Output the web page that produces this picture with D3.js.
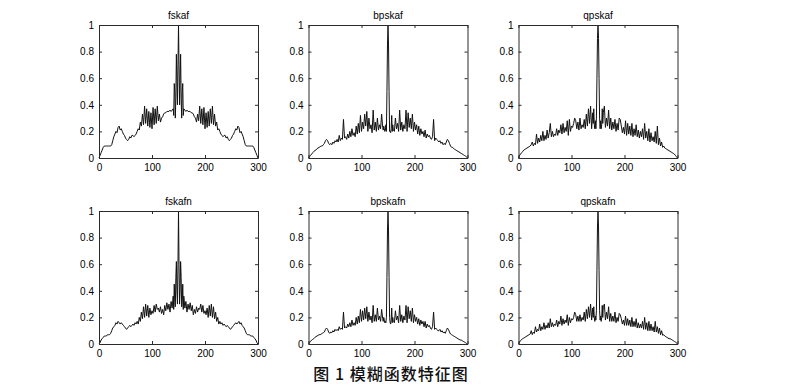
<!DOCTYPE html>
<html><head><meta charset="utf-8">
<script src="https://cdn.jsdelivr.net/npm/d3@7/dist/d3.min.js"></script>
<style>body{margin:0;background:#fff}svg{display:block}</style>
</head><body>
<svg id="c" width="800" height="386"></svg>
<script>
// x grid: step 2 outside the centre, step 1 across 140..160
const xs = d3.range(0,140,2).concat(d3.range(140,161)).concat(d3.range(162,301,2));

const titles = ["fskaf","bpskaf","qpskaf","fskafn","bpskafn","qpskafn"];
const xTicks = [0,100,200,300];
const yTicks = [0,0.2,0.4,0.6,0.8,1];
const caption = "图 1 模糊函数特征图";

const fskaf = [
0,0.02,0.04,0.06,0.08,0.09,0.09,0.09,0.09,0.09,
0.09,0.09,0.1,0.13,0.16,0.18,0.2,0.19,0.23,0.24,
0.21,0.22,0.2,0.18,0.17,0.15,0.14,0.13,0.14,0.16,
0.15,0.17,0.17,0.16,0.17,0.18,0.2,0.22,0.21,0.27,
0.24,0.33,0.25,0.39,0.26,0.37,0.24,0.35,0.23,0.34,
0.22,0.38,0.25,0.37,0.26,0.39,0.28,0.33,0.27,0.3,
0.31,0.33,0.34,0.34,0.35,0.35,0.35,0.36,0.35,0.36,
0.37,0.32,0.56,0.5,0.3,0.45,0.78,0.6,0.4,0.7,1,0.7,0.4,0.6,0.78,0.45,0.3,0.5,0.56,0.32,0.37,
0.36,0.35,0.36,0.35,0.35,0.35,0.34,0.34,0.33,0.31,
0.3,0.27,0.33,0.28,0.39,0.26,0.37,0.25,0.38,0.22,
0.34,0.23,0.35,0.24,0.37,0.26,0.39,0.25,0.33,0.24,
0.27,0.21,0.22,0.2,0.18,0.17,0.16,0.17,0.17,0.15,
0.16,0.14,0.13,0.14,0.15,0.17,0.18,0.2,0.22,0.21,
0.24,0.23,0.19,0.2,0.18,0.16,0.13,0.1,0.09,0.09,
0.09,0.09,0.09,0.09,0.09,0.08,0.06,0.04,0.02,0];

const bpskaf = [
0,0.01,0.02,0.03,0.04,0.05,0.055,0.06,0.07,0.075,
0.08,0.085,0.09,0.09,0.1,0.11,0.13,0.14,0.13,0.11,
0.1,0.11,0.1,0.12,0.11,0.13,0.12,0.14,0.12,0.17,
0.13,0.15,0.14,0.29,0.15,0.16,0.14,0.18,0.15,0.2,
0.16,0.22,0.17,0.19,0.16,0.24,0.18,0.26,0.19,0.32,
0.2,0.27,0.22,0.33,0.24,0.35,0.2,0.3,0.22,0.25,
0.19,0.36,0.21,0.27,0.2,0.3,0.21,0.25,0.22,0.33,
0.23,0.21,0.24,0.22,0.2,0.21,0.25,0.2,0.5,0.85,1,0.85,0.5,0.2,0.2,0.19,0.22,0.32,0.2,0.25,0.21,
0.2,0.3,0.22,0.26,0.2,0.36,0.21,0.27,0.2,0.25,
0.22,0.36,0.2,0.34,0.23,0.3,0.22,0.33,0.2,0.27,
0.21,0.25,0.18,0.24,0.17,0.22,0.18,0.2,0.16,0.21,
0.15,0.18,0.16,0.17,0.15,0.14,0.16,0.29,0.13,0.15,
0.14,0.13,0.12,0.13,0.11,0.12,0.1,0.11,0.1,0.12,
0.14,0.13,0.11,0.09,0.08,0.08,0.07,0.065,0.06,0.055,
0.05,0.045,0.04,0.035,0.03,0.025,0.02,0.015,0.01,0];

const qpskaf = [
0,0.02,0.03,0.04,0.05,0.06,0.065,0.07,0.075,0.08,
0.085,0.09,0.1,0.12,0.09,0.11,0.1,0.18,0.11,0.15,
0.12,0.17,0.13,0.2,0.13,0.17,0.14,0.21,0.15,0.19,
0.26,0.16,0.2,0.16,0.18,0.17,0.22,0.17,0.21,0.19,
0.25,0.18,0.26,0.19,0.23,0.2,0.28,0.17,0.29,0.2,
0.24,0.23,0.26,0.3,0.28,0.22,0.27,0.21,0.3,0.22,
0.25,0.23,0.29,0.22,0.33,0.24,0.37,0.26,0.39,0.22,
0.34,0.26,0.37,0.25,0.22,0.28,0.22,0.3,0.6,0.9,1,0.9,0.6,0.3,0.22,0.28,0.22,0.25,0.37,0.26,0.34,
0.39,0.23,0.3,0.24,0.36,0.22,0.3,0.21,0.27,0.22,
0.29,0.2,0.26,0.21,0.3,0.29,0.24,0.19,0.23,0.18,
0.28,0.17,0.26,0.18,0.24,0.17,0.26,0.16,0.22,0.17,
0.25,0.16,0.21,0.15,0.2,0.16,0.22,0.14,0.26,0.15,
0.2,0.13,0.22,0.12,0.19,0.13,0.16,0.12,0.2,0.11,
0.24,0.1,0.15,0.09,0.12,0.08,0.09,0.075,0.07,0.065,
0.06,0.055,0.05,0.045,0.04,0.035,0.03,0.02,0.01,0];

const fskafn = [
0,0.01,0.03,0.04,0.05,0.06,0.06,0.06,0.07,0.07,
0.07,0.08,0.1,0.12,0.13,0.14,0.16,0.15,0.17,0.16,
0.15,0.16,0.15,0.14,0.13,0.12,0.11,0.12,0.13,0.14,
0.13,0.14,0.15,0.14,0.16,0.15,0.17,0.15,0.2,0.17,
0.24,0.19,0.28,0.2,0.3,0.21,0.29,0.2,0.27,0.22,
0.25,0.23,0.29,0.24,0.3,0.26,0.27,0.24,0.28,0.23,
0.26,0.22,0.29,0.25,0.31,0.26,0.3,0.24,0.32,0.27,
0.36,0.26,0.45,0.32,0.28,0.5,0.62,0.4,0.3,0.6,1,0.6,0.3,0.4,0.62,0.5,0.28,0.32,0.45,0.26,0.36,
0.27,0.32,0.24,0.3,0.26,0.31,0.25,0.29,0.22,0.26,
0.23,0.28,0.24,0.27,0.26,0.3,0.24,0.29,0.23,0.25,
0.22,0.27,0.2,0.29,0.21,0.3,0.2,0.28,0.19,0.24,
0.17,0.2,0.15,0.17,0.15,0.16,0.14,0.15,0.14,0.13,
0.14,0.13,0.12,0.11,0.12,0.13,0.14,0.15,0.16,0.15,
0.16,0.17,0.15,0.16,0.14,0.13,0.12,0.1,0.08,0.07,
0.07,0.07,0.06,0.06,0.06,0.05,0.04,0.03,0.01,0];

const bpskafn = [
0,0.01,0.02,0.03,0.035,0.04,0.05,0.055,0.06,0.065,
0.07,0.07,0.075,0.08,0.085,0.09,0.11,0.12,0.11,0.09,
0.08,0.09,0.085,0.1,0.09,0.11,0.1,0.11,0.1,0.13,
0.11,0.12,0.11,0.24,0.12,0.13,0.12,0.15,0.13,0.16,
0.13,0.18,0.14,0.16,0.14,0.2,0.15,0.21,0.16,0.26,
0.17,0.25,0.18,0.27,0.19,0.28,0.17,0.24,0.18,0.21,
0.16,0.29,0.17,0.22,0.17,0.27,0.18,0.21,0.17,0.26,
0.19,0.17,0.2,0.18,0.16,0.17,0.16,0.2,0.5,0.85,1,0.85,0.5,0.2,0.16,0.15,0.18,0.27,0.16,0.2,0.17,
0.16,0.25,0.18,0.21,0.16,0.29,0.17,0.22,0.16,0.21,
0.18,0.29,0.16,0.28,0.19,0.25,0.17,0.27,0.16,0.22,
0.17,0.2,0.15,0.19,0.14,0.18,0.15,0.17,0.13,0.17,
0.12,0.15,0.13,0.14,0.12,0.11,0.13,0.24,0.11,0.12,
0.11,0.1,0.1,0.11,0.09,0.1,0.085,0.09,0.08,0.1,
0.12,0.11,0.09,0.075,0.07,0.065,0.06,0.055,0.05,0.045,
0.04,0.035,0.03,0.03,0.025,0.02,0.015,0.01,0.005,0];

const qpskafn = [
0,0.015,0.025,0.035,0.04,0.045,0.05,0.055,0.06,0.065,
0.07,0.075,0.1,0.07,0.09,0.08,0.13,0.09,0.11,0.1,
0.15,0.1,0.13,0.11,0.16,0.11,0.14,0.12,0.16,0.12,
0.19,0.13,0.16,0.13,0.15,0.14,0.18,0.13,0.17,0.15,
0.21,0.14,0.19,0.15,0.18,0.16,0.22,0.14,0.2,0.16,
0.19,0.18,0.2,0.24,0.22,0.17,0.21,0.17,0.22,0.17,
0.2,0.18,0.24,0.17,0.26,0.19,0.28,0.2,0.3,0.18,
0.27,0.2,0.28,0.2,0.17,0.21,0.18,0.25,0.55,0.88,1,0.88,0.55,0.25,0.18,0.21,0.17,0.2,0.29,0.2,0.28,
0.3,0.18,0.24,0.19,0.28,0.17,0.23,0.17,0.21,0.17,
0.24,0.16,0.2,0.17,0.23,0.22,0.19,0.15,0.18,0.14,
0.21,0.14,0.19,0.14,0.18,0.13,0.2,0.13,0.17,0.13,
0.19,0.12,0.16,0.12,0.15,0.12,0.17,0.11,0.2,0.11,
0.16,0.1,0.17,0.1,0.15,0.1,0.13,0.09,0.17,0.09,
0.13,0.08,0.12,0.07,0.1,0.065,0.07,0.06,0.055,0.05,
0.045,0.04,0.04,0.035,0.03,0.025,0.02,0.015,0.01,0];

const series = [fskaf,bpskaf,qpskaf,fskafn,bpskafn,qpskafn];

const svg = d3.select("#c");
const lefts = [99, 308.5, 518.5], tops = [25, 211];
const W = 159, H = 133;
const font = "Liberation Sans, Arial, Helvetica, sans-serif";
const axisColor = "#2a2a2a";

series.forEach((vals, i) => {
  const col = i % 3, row = Math.floor(i / 3);
  const g = svg.append("g").attr("transform", `translate(${lefts[col]},${tops[row]})`);
  const x = d3.scaleLinear().domain([0,300]).range([0,W]);
  const y = d3.scaleLinear().domain([0,1]).range([H,0]);

  const line = d3.line().x((d,j)=>x(xs[j])).y(d=>y(d));
  g.append("path").datum(vals).attr("d", line)
    .attr("fill","none").attr("stroke","#111").attr("stroke-width",1).attr("stroke-linejoin","round");

  const styleAxis = (sel) => {
    sel.select(".domain").attr("stroke", axisColor);
    sel.selectAll(".tick line").attr("stroke", axisColor);
    sel.selectAll("text").attr("font-family", font).attr("font-size", 10).attr("fill","#000");
  };
  g.append("g").attr("transform",`translate(0,${H})`)
    .call(d3.axisBottom(x).tickValues(xTicks).tickSizeInner(-3).tickSizeOuter(0).tickPadding(6).tickFormat(d3.format("d")))
    .call(styleAxis);
  g.append("g")
    .call(d3.axisTop(x).tickValues(xTicks).tickSizeInner(-3).tickSizeOuter(0).tickFormat(""))
    .call(styleAxis);
  g.append("g")
    .call(d3.axisLeft(y).tickValues(yTicks).tickSizeInner(-3).tickSizeOuter(0).tickPadding(5).tickFormat(d=>d3.format("")(+d.toFixed(1))))
    .call(styleAxis);
  g.append("g").attr("transform",`translate(${W},0)`)
    .call(d3.axisRight(y).tickValues(yTicks).tickSizeInner(-3).tickSizeOuter(0).tickFormat(""))
    .call(styleAxis);

  g.append("text").attr("x", W/2).attr("y", -6).attr("text-anchor","middle")
    .attr("font-family", font).attr("font-size", 10).attr("fill","#000").text(titles[i]);
});

svg.append("text").attr("x", 391).attr("y", 380).attr("text-anchor","middle")
  .attr("font-family","Noto Sans CJK SC, sans-serif").attr("font-size",16).attr("font-weight",500)
  .attr("letter-spacing",1).attr("fill","#111").text(caption);
</script>
</body></html>
